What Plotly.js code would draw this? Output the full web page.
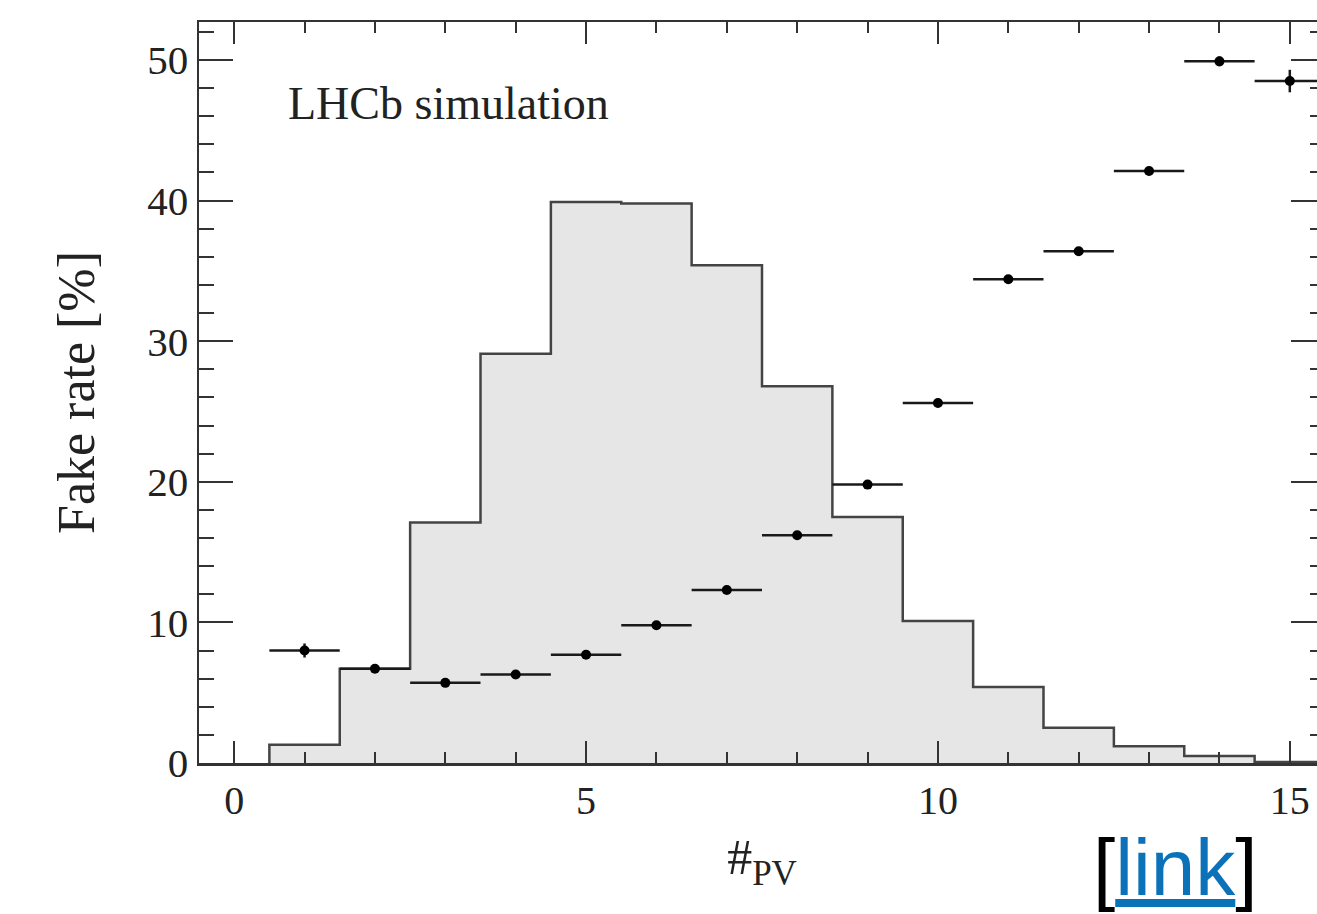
<!DOCTYPE html>
<html>
<head>
<meta charset="utf-8">
<script src="https://cdn.plot.ly/plotly-3.0.1.min.js"></script>
<style>
html,body{margin:0;padding:0;overflow:hidden;background:#fff;}
#chart{width:1340px;height:914px;}
</style>
</head>
<body>
<div id="chart"></div>
<script>
// Number of primary vertices (bin centres)
const nPV = [1, 2, 3, 4, 5, 6, 7, 8, 9, 10, 11, 12, 13, 14, 15];
// Fake rate [%] per #PV bin
const fakeRate = [8.0, 6.7, 5.7, 6.3, 7.7, 9.8, 12.3, 16.2, 19.8, 25.6, 34.4, 36.4, 42.1, 49.9, 48.5];
// Statistical uncertainty on the fake rate [%]
const fakeRateErr = [0.5, 0.2, 0.2, 0.2, 0.2, 0.2, 0.25, 0.25, 0.3, 0.3, 0.3, 0.3, 0.3, 0.35, 0.8];
// #PV distribution (arbitrary scale, drawn on the same axis)
const pvHist = [1.3, 6.7, 17.1, 29.1, 39.9, 39.8, 35.4, 26.8, 17.5, 10.1, 5.4, 2.5, 1.2, 0.5, 0.08];
// Tick labels
const xTickVals = [0, 5, 10, 15];
const yTickVals = [0, 10, 20, 30, 40, 50];

const binHalf = 0.5;
// Build step outline from bin centres
const histX = [nPV[0] - binHalf].concat(nPV.map(c => c - binHalf), [nPV[nPV.length - 1] + binHalf]);
const histY = [0].concat(pvHist, [pvHist[pvHist.length - 1]]);

const serif = "Liberation Serif, Times New Roman, serif";
const axisCol = "#333333";

const traces = [
  {
    type: "scatter",
    mode: "lines",
    x: histX,
    y: histY,
    line: {shape: "hv", color: "#444444", width: 2.5},
    fill: "tozeroy",
    fillcolor: "#e6e6e6",
    hoverinfo: "skip",
    showlegend: false
  },
  {
    type: "scatter",
    mode: "markers",
    x: nPV,
    y: fakeRate,
    marker: {color: "#000000", size: 10},
    error_x: {type: "constant", value: binHalf, color: "#1a1a1a", thickness: 2.5, width: 0},
    error_y: {type: "data", array: fakeRateErr, color: "#1a1a1a", thickness: 2.5, width: 0},
    showlegend: false
  }
];

const layout = {
  width: 1340,
  height: 914,
  margin: {l: 199, r: 15, t: 22, b: 151},
  paper_bgcolor: "#ffffff",
  plot_bgcolor: "#ffffff",
  showlegend: false,
  font: {family: serif, color: "#222222"},
  xaxis: {
    range: [-0.5, 15.5],
    tickvals: xTickVals,
    ticktext: xTickVals.map(String),
    ticks: "inside",
    ticklen: 22,
    tickwidth: 2,
    tickcolor: axisCol,
    minor: {dtick: 1, ticks: "inside", ticklen: 11, tickwidth: 2, tickcolor: axisCol},
    showline: true,
    linecolor: axisCol,
    linewidth: 2.5,
    mirror: "allticks",
    showgrid: false,
    zeroline: false,
    tickfont: {family: serif, size: 40, color: "#222"},
    ticklabelstandoff: 0,
    title: {text: "#<sub>PV</sub>", font: {family: serif, size: 50, color: "#222"}, standoff: 18}
  },
  yaxis: {
    range: [0, 52.7],
    tickvals: yTickVals,
    ticktext: yTickVals.map(String),
    ticks: "inside",
    ticklen: 34,
    tickwidth: 2,
    tickcolor: axisCol,
    minor: {dtick: 2, ticks: "inside", ticklen: 15, tickwidth: 2, tickcolor: axisCol},
    showline: true,
    linecolor: axisCol,
    linewidth: 2.5,
    mirror: "allticks",
    showgrid: false,
    zeroline: false,
    tickfont: {family: serif, size: 41, color: "#222"},
    title: {text: "Fake rate [%]", font: {family: serif, size: 52, color: "#222"}, standoff: 36}
  },
  annotations: [
    {
      text: "LHCb simulation",
      xref: "x", yref: "y",
      x: 0.73, y: 46.9,
      xanchor: "left", yanchor: "middle",
      showarrow: false,
      font: {family: serif, size: 46, color: "#222"}
    },
    {
      text: "[<span style=\"color:#0b72b9;text-decoration:underline\">link</span>]",
      xref: "paper", yref: "paper",
      x: 0.867, y: -0.2038,
      xanchor: "center", yanchor: "bottom",
      showarrow: false,
      font: {family: "Liberation Sans, Arial, sans-serif", size: 80, color: "#000"}
    }
  ]
};

Plotly.newPlot("chart", traces, layout, {displayModeBar: false, staticPlot: true});
</script>
</body>
</html>
